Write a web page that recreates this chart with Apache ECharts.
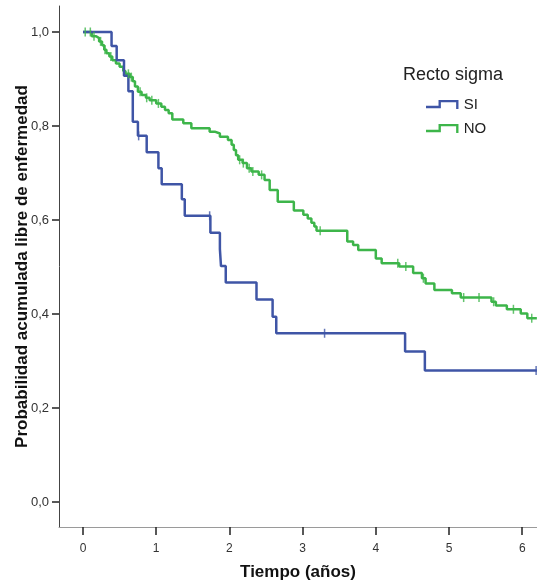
<!DOCTYPE html>
<html>
<head>
<meta charset="utf-8">
<script src="https://cdn.jsdelivr.net/npm/echarts@6/dist/echarts.min.js"></script>
<style>
html,body{margin:0;padding:0;background:#fff;}
#chart{width:537px;height:582px;}
</style>
</head>
<body>
<div id="chart"></div>
<script>
// ---- data ----
const xTicks = [0, 1, 2, 3, 4, 5, 6];
const yTicks = [0, 0.2, 0.4, 0.6, 0.8, 1.0];
const groupNames = ['SI', 'NO'];

// SI group: step change times (years) and survival after each step
const siTimes = [0, 0.39, 0.46, 0.56, 0.62, 0.68, 0.75, 0.87, 1.03, 1.075, 1.35, 1.39, 1.74, 1.87, 1.885, 1.95, 2.37, 2.59, 2.64, 4.40, 4.67, 6.2];
const siSurv  = [1.0, 0.970, 0.940, 0.907, 0.874, 0.809, 0.779, 0.744, 0.710, 0.676, 0.644, 0.609, 0.573, 0.538, 0.502, 0.467, 0.431, 0.394, 0.359, 0.320, 0.280, 0.280];
const siCensT = [0.76, 1.73, 3.30, 6.19];
const siCensS = [0.779, 0.609, 0.359, 0.280];

// NO group
const noTimes = [0, 0.12, 0.18, 0.22, 0.26, 0.29, 0.32, 0.36, 0.40, 0.45, 0.50, 0.55, 0.58, 0.64, 0.68, 0.71, 0.75, 0.80, 0.86, 0.91, 1.00, 1.07, 1.12, 1.17, 1.22, 1.37, 1.48, 1.73, 1.80, 1.87, 1.98, 2.03, 2.06, 2.09, 2.12, 2.18, 2.24, 2.30, 2.40, 2.48, 2.55, 2.66, 2.88, 3.01, 3.07, 3.12, 3.16, 3.19, 3.61, 3.69, 3.76, 4.00, 4.08, 4.32, 4.51, 4.63, 4.68, 4.80, 5.04, 5.16, 5.58, 5.64, 5.79, 5.98, 6.07, 6.2];
const noSurv  = [1.0, 0.991, 0.987, 0.980, 0.972, 0.962, 0.955, 0.948, 0.940, 0.933, 0.926, 0.917, 0.911, 0.904, 0.895, 0.884, 0.873, 0.866, 0.860, 0.855, 0.848, 0.841, 0.834, 0.827, 0.814, 0.806, 0.795, 0.788, 0.784, 0.777, 0.770, 0.760, 0.749, 0.738, 0.728, 0.721, 0.710, 0.703, 0.696, 0.685, 0.664, 0.639, 0.620, 0.611, 0.603, 0.594, 0.586, 0.577, 0.554, 0.547, 0.536, 0.518, 0.508, 0.501, 0.487, 0.476, 0.465, 0.451, 0.444, 0.435, 0.426, 0.418, 0.410, 0.401, 0.391, 0.391];
const noCensT = [0.03, 0.10, 0.15, 0.24, 0.30, 0.38, 0.62, 0.66, 0.78, 0.87, 0.94, 1.03, 2.14, 2.19, 2.27, 2.32, 2.44, 3.24, 4.30, 4.41, 4.65, 5.20, 5.41, 5.61, 5.88, 6.13];
const noCensS = [1.0, 1.0, 0.991, 0.980, 0.962, 0.948, 0.911, 0.904, 0.873, 0.860, 0.855, 0.848, 0.728, 0.721, 0.710, 0.703, 0.696, 0.577, 0.508, 0.501, 0.476, 0.435, 0.435, 0.426, 0.410, 0.391];

// ---- chart ----
const BLUE = '#3f55a6';
const GREEN = '#3db54a';
const FONT = 'Arimo, "Liberation Sans", Arial, Helvetica, sans-serif';
const zip = (a, b) => a.map((v, i) => [v, b[i]]);
const legendIcon = 'path://M0,5.8 L12.8,5.8 L12.8,-0.2 L33.2,-0.2 L33.2,9 L30.8,9 L30.8,2.2 L15.2,2.2 L15.2,8.2 L0,8.2 Z';

const chart = echarts.init(document.getElementById('chart'), null, {renderer: 'canvas'});
chart.setOption({
  animation: false,
  backgroundColor: '#fff',
  textStyle: {fontFamily: FONT},
  title: {
    text: 'Recto sigma', left: 398, top: 61,
    textStyle: {fontFamily: FONT, fontSize: 18, fontWeight: 'normal', color: '#222'}
  },
  legend: {
    data: groupNames, orient: 'vertical', left: 421, top: 92,
    itemWidth: 33, itemHeight: 9, itemGap: 9, icon: legendIcon,
    textStyle: {fontFamily: FONT, fontSize: 15, color: '#222'},
    selectedMode: false
  },
  grid: {left: 59, right: 0, top: 6, bottom: 55, containLabel: false, outerBoundsMode: 'none'},
  xAxis: {
    type: 'value', min: -0.328, max: 6.202,
    name: 'Tiempo (años)', nameLocation: 'middle', nameGap: 37,
    nameTextStyle: {fontFamily: FONT, fontSize: 17, fontWeight: 'bold', color: '#111'},
    axisLine: {show: true, onZero: false, lineStyle: {color: '#9a9a9a', width: 1}},
    axisTick: {show: true, inside: false, length: 8, customValues: xTicks, lineStyle: {color: '#222', width: 1.5}},
    axisLabel: {customValues: xTicks, margin: 16, fontSize: 12, color: '#333', fontFamily: FONT},
    splitLine: {show: false}
  },
  yAxis: {
    type: 'value', min: -0.0532, max: 1.0553,
    name: 'Probabilidad acumulada libre de enfermedad', nameLocation: 'middle', nameGap: 28,
    nameMoveOverlap: false,
    nameTextStyle: {fontFamily: FONT, fontSize: 17, fontWeight: 'bold', color: '#111'},
    axisLine: {show: true, onZero: false, lineStyle: {color: '#444', width: 1}},
    axisTick: {show: true, length: 7, customValues: yTicks, lineStyle: {color: '#222', width: 1.5}},
    axisLabel: {customValues: yTicks, margin: 10, fontSize: 13, color: '#333', fontFamily: FONT,
      formatter: v => v.toFixed(1).replace('.', ',')},
    splitLine: {show: false}
  },
  series: [
    {name: 'NO', type: 'line', step: 'end', data: zip(noTimes, noSurv), showSymbol: false, symbol: 'none',
      color: GREEN, lineStyle: {color: GREEN, width: 2.5}, z: 2},
    {name: 'SI', type: 'line', step: 'end', data: zip(siTimes, siSurv), showSymbol: false, symbol: 'none',
      color: BLUE, lineStyle: {color: BLUE, width: 2.5}, z: 3},
    {name: 'NO cens', type: 'scatter', data: zip(noCensT, noCensS), symbol: 'rect', symbolSize: [1.5, 9],
      itemStyle: {color: GREEN}, z: 4},
    {name: 'SI cens', type: 'scatter', data: zip(siCensT, siCensS), symbol: 'rect', symbolSize: [1.5, 9],
      itemStyle: {color: BLUE}, z: 4}
  ]
});
</script>
</body>
</html>
